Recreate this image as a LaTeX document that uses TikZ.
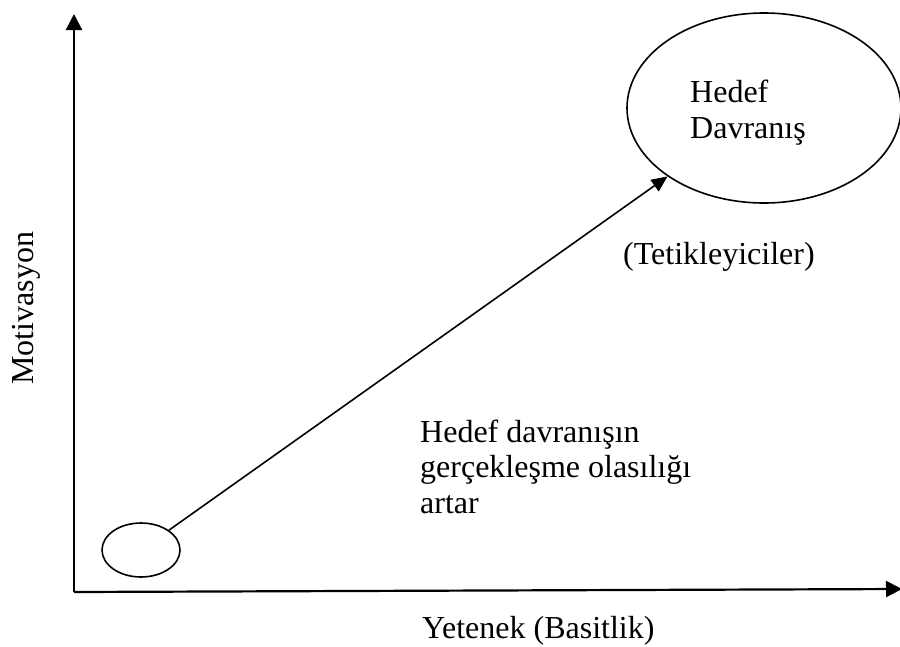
\documentclass[tikz,border=0pt]{standalone}
\usepackage{fontspec}
\setmainfont{Liberation Serif}
\usetikzlibrary{shapes.geometric,arrows.meta}
\begin{document}
\begin{tikzpicture}[x=1pt,y=-1pt,
  txt/.style={font=\fontsize{32}{35.5}\selectfont, inner sep=0pt, align=left},
  axis/.style={line width=2.2pt, -{Triangle[length=16pt,width=16pt]}},
  oval/.style={ellipse, draw, line width=1.6pt, inner sep=0pt},
  link/.style={line width=1.6pt, -{Triangle[length=16pt,width=14pt]}}]
\useasboundingbox (0,0) rectangle (900,646);
\coordinate (O) at (74,592);
\coordinate (ytop) at (74,14);
\coordinate (xend) at (902,589);
\draw[axis] (O) -- (ytop);
\draw[axis] (O) -- (xend);
\node[oval, minimum width=78pt, minimum height=54pt] (small) at (141,550) {};
\node[oval, minimum width=274pt, minimum height=190pt] (big) at (764,108) {};
\draw[link] (small) -- (big);
\node[txt, anchor=base west] (hd) at (690,138) {Hedef\\Davranış};
\node[txt, anchor=base west] (tk) at (623,264) {(Tetikleyiciler)};
\node[txt, anchor=base west] (ol) at (420,513) {Hedef davranışın\\gerçekleşme olasılığı\\artar};
\node[txt, anchor=base west] (xl) at (422,638) {Yetenek (Basitlik)};
\node[txt, anchor=base, rotate=90] (yl) at (34,308) {Motivasyon};
\end{tikzpicture}
\end{document}
